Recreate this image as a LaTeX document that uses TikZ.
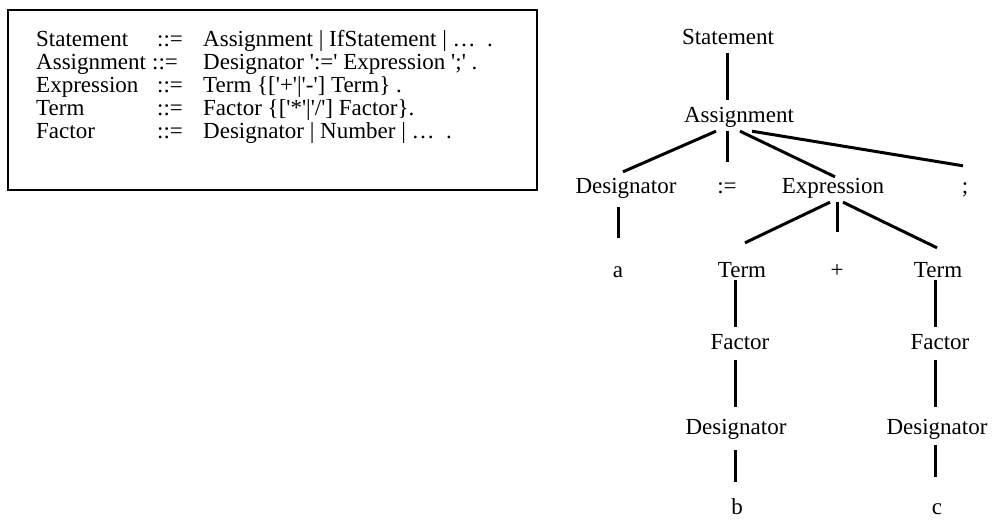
\documentclass[tikz,border=0pt]{standalone}
\usepackage{fontspec}
\setmainfont{Liberation Serif}[Ligatures=TeXOff]
\usetikzlibrary{calc}
\begin{document}
\begin{tikzpicture}[x=1pt,y=-1pt,
  every node/.style={font=\fontsize{23}{23}\selectfont, inner sep=0pt},
  lbl/.style={anchor=base west},
  tn/.style={anchor=base, text height=16pt, text depth=5pt},
  edge/.style={line width=3pt}]
\useasboundingbox (0,0) rectangle (992,519);

% grammar box
\node[draw, line width=2pt, minimum width=529pt, minimum height=180pt] (box) at (272.5,100) {};
\node[lbl] (l1) at (36,47)  {Statement};
\node[lbl] (l2) at (36,70)  {Assignment};
\node[lbl] (l3) at (36,92)  {Expression};
\node[lbl] (l4) at (36,115) {Term};
\node[lbl] (l5) at (36,138) {Factor};
\node[lbl] (o1) at (157,47)  {::=};
\node[lbl] (o2) at (152,70)  {::=};
\node[lbl] (o3) at (157,92)  {::=};
\node[lbl] (o4) at (157,115) {::=};
\node[lbl] (o5) at (157,138) {::=};
\node[lbl] (r1) at (203,47)  {Assignment | IfStatement | …~~.};
\node[lbl] (r2) at (203,70)  {Designator ':=' Expression ';' .};
\node[lbl] (r3) at (203,92)  {Term \{['+'|'-'] Term\} .};
\node[lbl] (r4) at (203,115) {Factor \{['*'|'/'] Factor\}.};
\node[lbl] (r5) at (203,138) {Designator | Number | …~~.};

% parse tree
\node[tn] (stmt)     at (728,45)  {Statement};
\node[tn] (assign)   at (739,122) {Assignment};
\node[tn] (desig1)   at (626,193) {Designator};
\node[tn] (assignop) at (727,193) {:=};
\node[tn] (expr)     at (833,193) {Expression};
\node[tn] (semi)     at (965,193) {;};
\node[tn] (a)        at (618,277) {a};
\node[tn] (term1)    at (742,277) {Term};
\node[tn] (plus)     at (837,277) {+};
\node[tn] (term2)    at (938,277) {Term};
\node[tn] (factor1)  at (740,349) {Factor};
\node[tn] (factor2)  at (940,349) {Factor};
\node[tn] (desig2)   at (736,434) {Designator};
\node[tn] (desig3)   at (937,434) {Designator};
\node[tn, text depth=0pt] (b) at (737,514) {b};
\node[tn, text depth=0pt] (c) at (937,514) {c};

\draw[edge] ($(stmt.south)+(-1,3)$)    -- ($(assign.north)+(-12,-6)$);
\draw[edge] ($(assign.south)+(-23,4)$) -- ($(desig1.north)+(-3,-5)$);
\draw[edge] ($(assign.south)+(-12,4)$) -- ($(assignop.north)+(0,-15)$);
\draw[edge] ($(assign.south)+(1,4)$)   -- ($(expr.north)+(2,0)$);
\draw[edge] ($(assign.south)+(13,4)$)  -- ($(semi.north)+(-2,-11)$);
\draw[edge] ($(desig1.south)+(-8,9)$)  -- ($(a.north)+(0,-23)$);
\draw[edge] ($(expr.south)+(-3,4)$)    -- ($(term1.north)+(3,-18)$);
\draw[edge] ($(expr.south)+(4,4)$)     -- ($(plus.north)+(0,-29)$);
\draw[edge] ($(expr.south)+(10,4)$)    -- ($(term2.north)+(-1,-13)$);
\draw[edge] ($(term1.south)+(-7,-2)$)  -- ($(factor1.north)+(-5,-6)$);
\draw[edge] ($(factor1.south)+(-5,6)$) -- ($(desig2.north)+(-1,-11)$);
\draw[edge] ($(desig2.south)+(-1,11)$) -- ($(b.north)+(-2,-16)$);
\draw[edge] ($(term2.south)+(-3,-2)$)  -- ($(factor2.north)+(-5,-6)$);
\draw[edge] ($(factor2.south)+(-5,6)$) -- ($(desig3.north)+(-2,-11)$);
\draw[edge] ($(desig3.south)+(-2,6)$)  -- ($(c.north)+(-2,-21)$);
\end{tikzpicture}
\end{document}
